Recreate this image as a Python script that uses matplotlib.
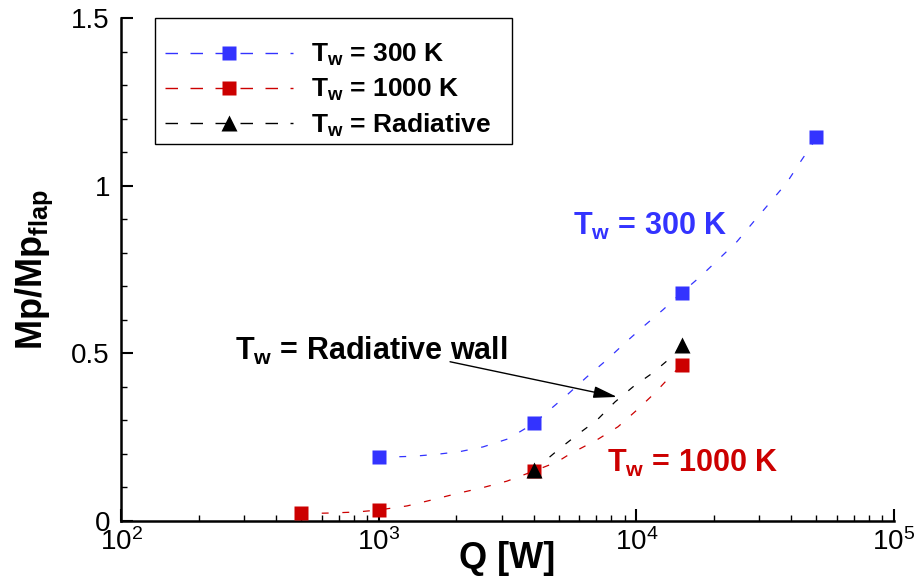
import matplotlib
matplotlib.use("Agg")
import matplotlib.pyplot as plt
from matplotlib.lines import Line2D
from matplotlib.patches import Rectangle
from matplotlib.ticker import MultipleLocator, LogLocator, NullFormatter

plt.rcParams["font.family"] = ["Liberation Sans", "DejaVu Sans"]
plt.rcParams["mathtext.fontset"] = "custom"
plt.rcParams["mathtext.rm"] = "Liberation Sans"
plt.rcParams["mathtext.bf"] = "Liberation Sans:bold"
plt.rcParams["mathtext.it"] = "Liberation Sans:italic"

BLUE = "#3333FF"
RED = "#CC0000"

# measured points
q_300 = [1000, 4000, 15000, 50000]
mp_300 = [0.19, 0.293, 0.681, 1.146]
q_1000 = [500, 1000, 4000, 15000]
mp_1000 = [0.024, 0.033, 0.149, 0.466]
q_rad = [4000, 15000]
mp_rad = [0.151, 0.525]

# fitted curves
fit_q_300 = [1000, 1358, 1683, 2066, 2539, 3177, 4000, 5383, 6432, 7690, 9032,
             10610, 12690, 15000, 17660, 20750, 24560, 28340, 32960, 38370, 43140, 50400]
fit_mp_300 = [0.19, 0.193, 0.199, 0.207, 0.221, 0.245, 0.291, 0.376, 0.430, 0.481, 0.531,
              0.579, 0.630, 0.681, 0.728, 0.779, 0.833, 0.890, 0.949, 1.009, 1.069, 1.146]
fit_q_1000 = [500, 659, 824, 1000, 1288, 1610, 2013, 2518, 3148, 4000, 4920, 5524,
              7030, 8484, 10050, 11800, 13500, 15000]
fit_mp_1000 = [0.022, 0.024, 0.027, 0.033, 0.045, 0.063, 0.082, 0.099, 0.119, 0.149, 0.176,
               0.200, 0.242, 0.281, 0.331, 0.382, 0.430, 0.466]
fit_q_rad = [4000, 4966, 5888, 7032, 8260, 9700, 11590, 13740, 15000]
fit_mp_rad = [0.151, 0.212, 0.257, 0.301, 0.355, 0.400, 0.442, 0.490, 0.525]

legend_labels = [r"$\mathbf{T_w}$ = 300 K", r"$\mathbf{T_w}$ = 1000 K", r"$\mathbf{T_w}$ = Radiative"]


def main():
    fig = plt.figure(figsize=(9.19, 5.83), dpi=100)
    ax = fig.add_axes([0.1317, 0.1063, 0.8411, 0.8628])

    dash = (0, (5.5, 11))
    ax.plot(fit_q_300, fit_mp_300, color=BLUE, lw=0.9, linestyle=dash)
    ax.plot(fit_q_1000, fit_mp_1000, color=RED, lw=0.9, linestyle=dash)
    ax.plot(fit_q_rad, fit_mp_rad, color="black", lw=0.9, linestyle=dash)

    ax.plot(q_300, mp_300, "s", color=BLUE, ms=10.3, mec="none", zorder=3)
    ax.plot(q_1000, mp_1000, "s", color=RED, ms=10.3, mec="none", zorder=3)
    ax.plot(q_rad, mp_rad, "^", color="black", ms=11, mec="none", zorder=4)

    ax.set_xscale("log")
    ax.set_xlim(1e2, 1e5)
    ax.set_ylim(0, 1.5)
    ax.xaxis.set_major_locator(LogLocator(base=10, numticks=10))
    ax.xaxis.set_minor_locator(LogLocator(base=10, subs=range(2, 10), numticks=20))
    ax.xaxis.set_minor_formatter(NullFormatter())
    ax.yaxis.set_minor_locator(MultipleLocator(0.1))
    ax.set_yticks([0, 0.5, 1, 1.5])
    ax.set_yticklabels(["0", "0.5", "1", "1.5"])

    for s in ["top", "right"]:
        ax.spines[s].set_visible(False)
    for s in ["left", "bottom"]:
        ax.spines[s].set_linewidth(1.8)

    ax.tick_params(which="major", direction="in", length=8.5, width=1.5, labelsize=20)
    ax.tick_params(which="minor", direction="in", length=4.5, width=1.0)
    ax.tick_params(axis="y", which="major", pad=8)
    ax.tick_params(axis="x", which="major", pad=5)

    ax.set_xlabel("Q [W]", fontsize=26, fontweight="bold")
    ax.xaxis.set_label_coords(0.5, -0.04)
    ax.set_ylabel(r"$\mathbf{Mp/Mp_{flap}}$", fontsize=26)
    ax.yaxis.set_label_coords(-0.085, 0.5)

    # legend frame drawn separately, entries placed inside it
    frame = Rectangle((0.044, 0.7495), 0.462, 0.2505, transform=ax.transAxes,
                      facecolor="white", edgecolor="black", lw=1.0, clip_on=False, zorder=5)
    ax.add_patch(frame)
    leg_dash = (0, (9, 9))
    handles = [
        Line2D([], [], color=BLUE, alpha=0.7, lw=1.0, linestyle=leg_dash,
               marker="s", ms=10.3, mfc=BLUE, mec="none"),
        Line2D([], [], color=RED, alpha=0.7, lw=1.0, linestyle=leg_dash,
               marker="s", ms=10.3, mfc=RED, mec="none"),
        Line2D([], [], color="black", alpha=0.6, lw=1.0, linestyle=leg_dash,
               marker="^", ms=11, mfc="black", mec="none"),
    ]
    leg = ax.legend(handles, legend_labels, loc="upper left", bbox_to_anchor=(0.0569, 0.952),
                    prop={"size": 19, "weight": "bold"}, handlelength=4.85, numpoints=1,
                    frameon=False, borderpad=0, labelspacing=0.32, handletextpad=0.7,
                    borderaxespad=0)
    leg.set_zorder(6)
    for h in leg.legend_handles:
        h.set_alpha(None)

    # annotations
    ax.text(5675, 0.854, r"$\mathbf{T_w}$ = 300 K", color=BLUE, fontsize=22, fontweight="bold")
    ax.text(7690, 0.146, r"$\mathbf{T_w}$ = 1000 K", color=RED, fontsize=22, fontweight="bold")
    ax.text(277, 0.48, r"$\mathbf{T_w}$ = Radiative wall", color="black", fontsize=22,
            fontweight="bold")
    ax.annotate("", xy=(8414, 0.370), xytext=(1892, 0.475),
                arrowprops=dict(arrowstyle="-|>,head_length=0.8,head_width=0.2",
                                color="black", lw=1.0, mutation_scale=18,
                                shrinkA=0, shrinkB=0))

    fig.savefig("out.png", dpi=100)


if __name__ == "__main__":
    main()
